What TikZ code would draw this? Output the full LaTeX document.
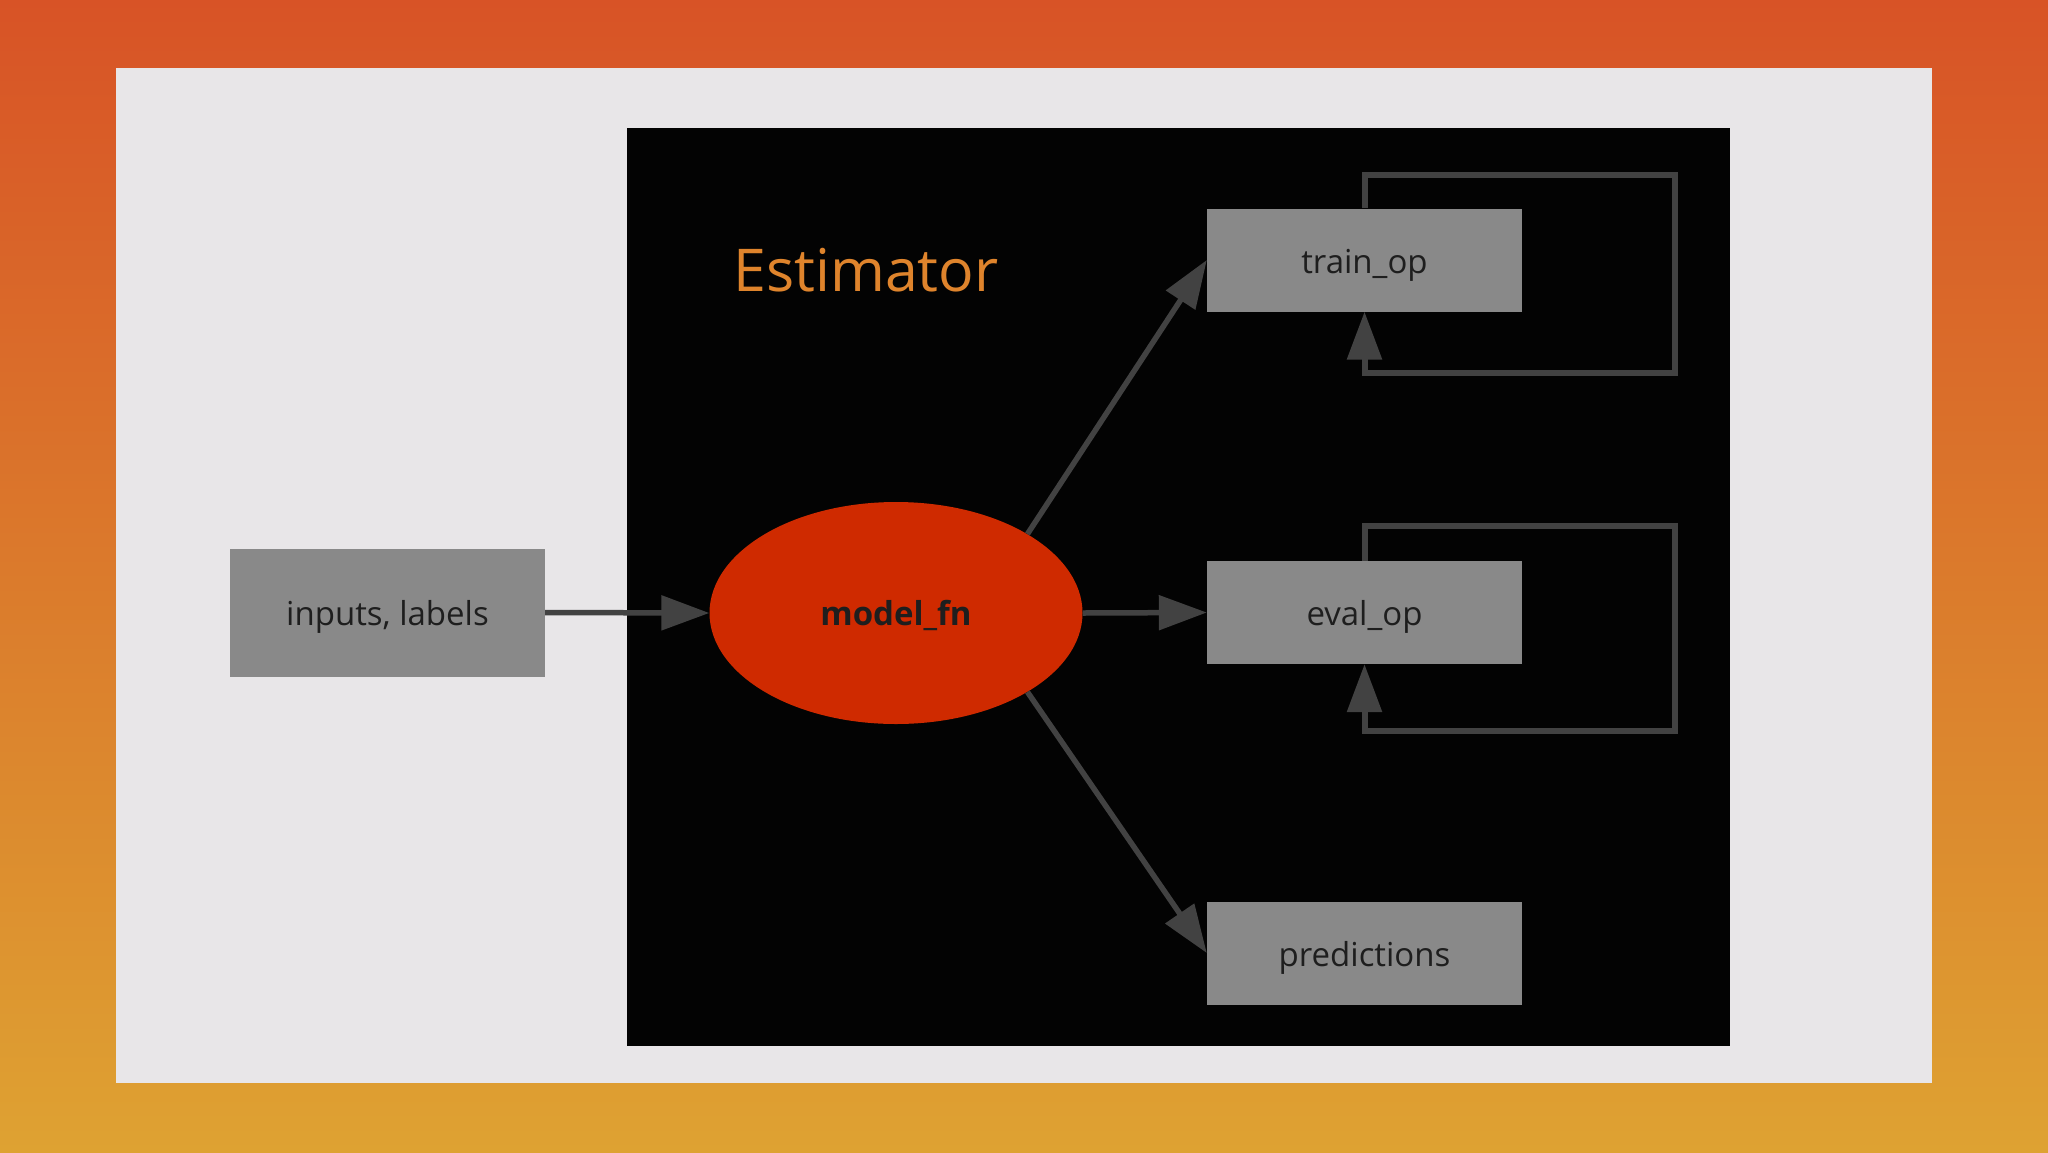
\documentclass[tikz,border=0pt]{standalone}
\usepackage{fontspec}
\setmainfont{Open Sans}
\usetikzlibrary{arrows.meta,shapes.geometric}
\definecolor{bgtop}{HTML}{D85326}
\definecolor{bgbot}{HTML}{DEA232}
\definecolor{panel}{HTML}{E8E6E8}
\definecolor{boxgray}{HTML}{898989}
\definecolor{txt}{HTML}{1E1E1E}
\definecolor{arr}{HTML}{424242}
\definecolor{redfn}{HTML}{CF2A00}
\definecolor{estor}{HTML}{DF842C}
\tikzset{
  opbox/.style={fill=boxgray, draw=none, minimum width=315pt, minimum height=103pt, inner sep=0pt, text=txt, text height=26pt, text depth=0pt, font=\fontsize{33}{40}\selectfont},
  conn/.style={draw=arr, line width=5.5pt, -{Triangle[length=48pt,width=34pt]}},
  loopline/.style={draw=arr, line width=6pt, -{Triangle[length=48pt,width=34pt]}}
}
\begin{document}
\begin{tikzpicture}[x=1pt,y=-1pt]
\useasboundingbox (0,0) rectangle (2048,1152);
\shade[top color=bgtop, bottom color=bgbot] (0,0) rectangle (2048,1152);
\fill[panel] (116,68) rectangle (1932,1083);
\fill[black!99] (627,128) rectangle (1730,1046);
\node[text=estor, font=\fontsize{59}{66}\selectfont] (est) at (866,270) {Estimator};
\node[opbox, minimum height=128pt] (inp) at (387.5,612.5) {inputs, labels};
\node[ellipse, fill=redfn, minimum width=373pt, minimum height=222pt, inner sep=0pt, text height=24pt, text depth=0pt, font=\fontsize{33}{40}\selectfont\bfseries, text=txt] (mfn) at (896,613) {model\_fn};
\node[opbox] (train) at (1364.5,260) {train\_op};
\node[opbox] (eval) at (1364.5,612.5) {eval\_op};
\node[opbox] (pred) at (1364.5,953) {predictions};
\coordinate (tA) at (1675,175);
\coordinate (tB) at (1364.5,373);
\coordinate (eA) at (1675,526);
\coordinate (eB) at (1364.5,731);
\draw[conn] (inp.east) -- (mfn.west);
\draw[conn] (mfn.east) -- (eval.west);
\draw[conn] (mfn.31) -- (train.west);
\draw[conn] (mfn.-31) -- (pred.west);
\draw[loopline, line join=miter] (train.north) |- (tA) |- (tB) -- (train.south);
\draw[loopline, line join=miter] (eval.north) |- (eA) |- (eB) -- (eval.south);
\end{tikzpicture}
\end{document}
